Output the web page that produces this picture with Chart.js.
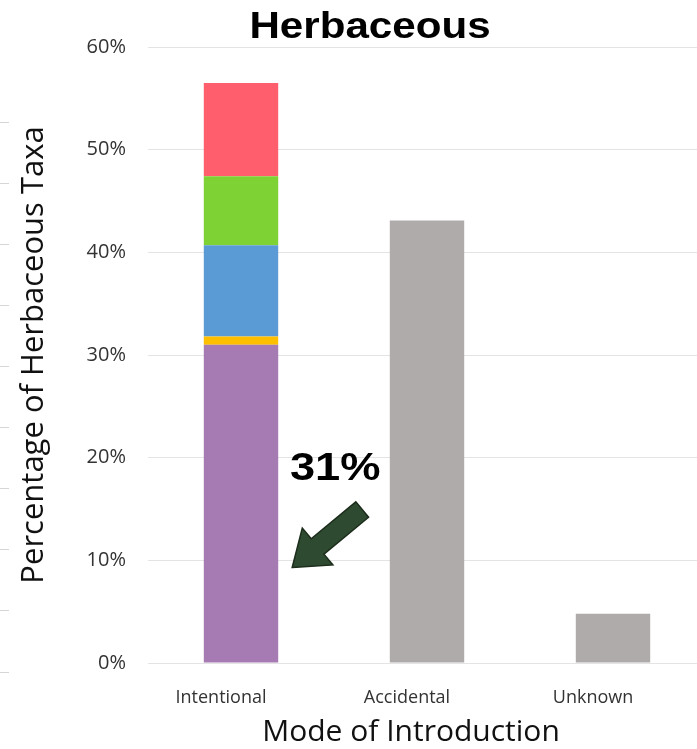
<!DOCTYPE html>
<html>
<head>
<meta charset="utf-8">
<title>Herbaceous</title>
<script src="https://cdn.jsdelivr.net/npm/chart.js@4.4.0/dist/chart.umd.min.js"></script>
<style>
  html, body { margin: 0; padding: 0; background: #fff; overflow: hidden; }
  #wrap { width: 740px; height: 749px; }
</style>
</head>
<body>
<div id="wrap"><canvas id="myChart" width="740" height="749"></canvas></div>
<script>
// modes of introduction
const categories = ["Intentional", "Accidental", "Unknown"];

// intentional introductions split by purpose, bottom to top (% of taxa)
const ornamental = [31, null, null];
const orangePart = [0.8, null, null];
const bluePart = [8.9, null, null];
const greenPart = [6.7, null, null];
const redPart = [9.1, null, null];

// the other two modes
const otherModes = [null, 43.1, 4.8];

const yTicks = [0, 10, 20, 30, 40, 50, 60];

// faint marks along the left edge
const edgeMarks = [122, 183, 244, 305, 366, 427, 488, 549, 610, 672];

// wide text: draw squeezed glyphs stretched sideways
const wideText = (ctx, text, x, y, font, stretch) => {
  ctx.save();
  ctx.font = font;
  ctx.textAlign = 'center';
  ctx.textBaseline = 'alphabetic';
  ctx.translate(x, y);
  ctx.scale(stretch, 1);
  ctx.fillText(text, 0, 0);
  ctx.restore();
};

const headline = {
  id: 'headline',
  afterDraw(chart) {
    const ctx = chart.ctx;
    ctx.fillStyle = '#000';
    wideText(ctx, 'Herbaceous', chart.width / 2, 38, 'bold 36px "Liberation Sans", Arial, sans-serif', 1.17);
  }
};

const arrowNote = {
  id: 'arrowNote',
  afterDatasetsDraw(chart) {
    const ctx = chart.ctx;
    const bar = chart.getDatasetMeta(0).data[0];
    const y = chart.scales.y;
    const tipX = bar.x + bar.width / 2 + 14;
    const tipY = y.getPixelForValue(9.3);
    const len = 91, headLen = 33, headHalf = 24, shaftHalf = 10;
    const ux = 70 / 91, uy = -58 / 91;
    const nx = -uy, ny = ux;
    const bx = tipX + ux * headLen, by = tipY + uy * headLen;
    const ex = tipX + ux * len, ey = tipY + uy * len;
    ctx.save();
    ctx.beginPath();
    ctx.moveTo(tipX, tipY);
    ctx.lineTo(bx + nx * headHalf, by + ny * headHalf);
    ctx.lineTo(bx + nx * shaftHalf, by + ny * shaftHalf);
    ctx.lineTo(ex + nx * shaftHalf, ey + ny * shaftHalf);
    ctx.lineTo(ex - nx * shaftHalf, ey - ny * shaftHalf);
    ctx.lineTo(bx - nx * shaftHalf, by - ny * shaftHalf);
    ctx.lineTo(bx - nx * headHalf, by - ny * headHalf);
    ctx.closePath();
    ctx.fillStyle = '#2e4a30';
    ctx.fill();
    ctx.lineWidth = 1.5;
    ctx.strokeStyle = '#1c2d1c';
    ctx.stroke();

    // value of the bottom segment
    ctx.fillStyle = '#000';
    wideText(ctx, ornamental[0] + '%', tipX + 43, y.getPixelForValue(17.8),
      'bold 39px "Liberation Sans", Arial, sans-serif', 1.16);
    ctx.restore();
  }
};

const xTitle = {
  id: 'xTitle',
  afterDraw(chart) {
    const ctx = chart.ctx;
    const area = chart.chartArea;
    ctx.save();
    ctx.fillStyle = '#111';
    ctx.font = '30px "Open Sans", sans-serif';
    ctx.textAlign = 'center';
    ctx.textBaseline = 'middle';
    ctx.fillText('Mode of Introduction', (area.left + area.right) / 2 - 16, 732);
    ctx.restore();
  }
};

const edgeLines = {
  id: 'edgeLines',
  beforeDraw(chart) {
    const ctx = chart.ctx;
    ctx.save();
    ctx.strokeStyle = '#d6d6d6';
    ctx.lineWidth = 1;
    edgeMarks.forEach((m) => {
      ctx.beginPath();
      ctx.moveTo(0, m + 0.5);
      ctx.lineTo(9, m + 0.5);
      ctx.stroke();
    });
    ctx.restore();
  }
};

const generateChart = () => {
  const ctx = document.getElementById('myChart').getContext('2d');
  const seg = (label, data, color) => ({
    label: label,
    data: data,
    backgroundColor: color,
    borderWidth: 0,
    barPercentage: 0.4,
    categoryPercentage: 1.0,
    stack: 'all'
  });
  return new Chart(ctx, {
    type: 'bar',
    data: {
      labels: categories,
      datasets: [
        seg('Ornamental', ornamental, '#a67ab3'),
        seg('Orange', orangePart, '#fdbf00'),
        seg('Blue', bluePart, '#5b9bd5'),
        seg('Green', greenPart, '#7ed234'),
        seg('Red', redPart, '#ff5f6d'),
        seg('Other', otherModes, '#afabab')
      ]
    },
    options: {
      responsive: false,
      animation: false,
      layout: { padding: { left: 0, right: 34, top: 47, bottom: 26 } },
      plugins: {
        legend: { display: false },
        tooltip: { enabled: false },
        title: { display: false }
      },
      scales: {
        x: {
          stacked: true,
          grid: { display: false },
          border: { display: false },
          ticks: {
            color: '#333',
            font: { family: '"Open Sans", sans-serif', size: 18 },
            labelOffset: -20,
            padding: 16,
            maxRotation: 0
          },
          afterFit(scale) { scale.height = 60; }
        },
        y: {
          stacked: true,
          min: 0,
          max: 60,
          afterBuildTicks(scale) { scale.ticks = yTicks.map((v) => ({ value: v })); },
          ticks: {
            color: '#333',
            padding: 22,
            font: { family: '"Open Sans", sans-serif', size: 20 },
            callback: (v) => v + '%'
          },
          grid: { color: '#e4e4e4', drawTicks: false },
          border: { display: false },
          title: {
            display: true,
            text: 'Percentage of Herbaceous Taxa',
            color: '#111',
            font: { family: '"Open Sans", sans-serif', size: 31 },
            padding: { top: 16, bottom: 0 }
          },
          afterFit(scale) { scale.width = 148; }
        }
      }
    },
    plugins: [edgeLines, arrowNote, headline, xTitle]
  });
};

generateChart();
</script>
</body>
</html>
